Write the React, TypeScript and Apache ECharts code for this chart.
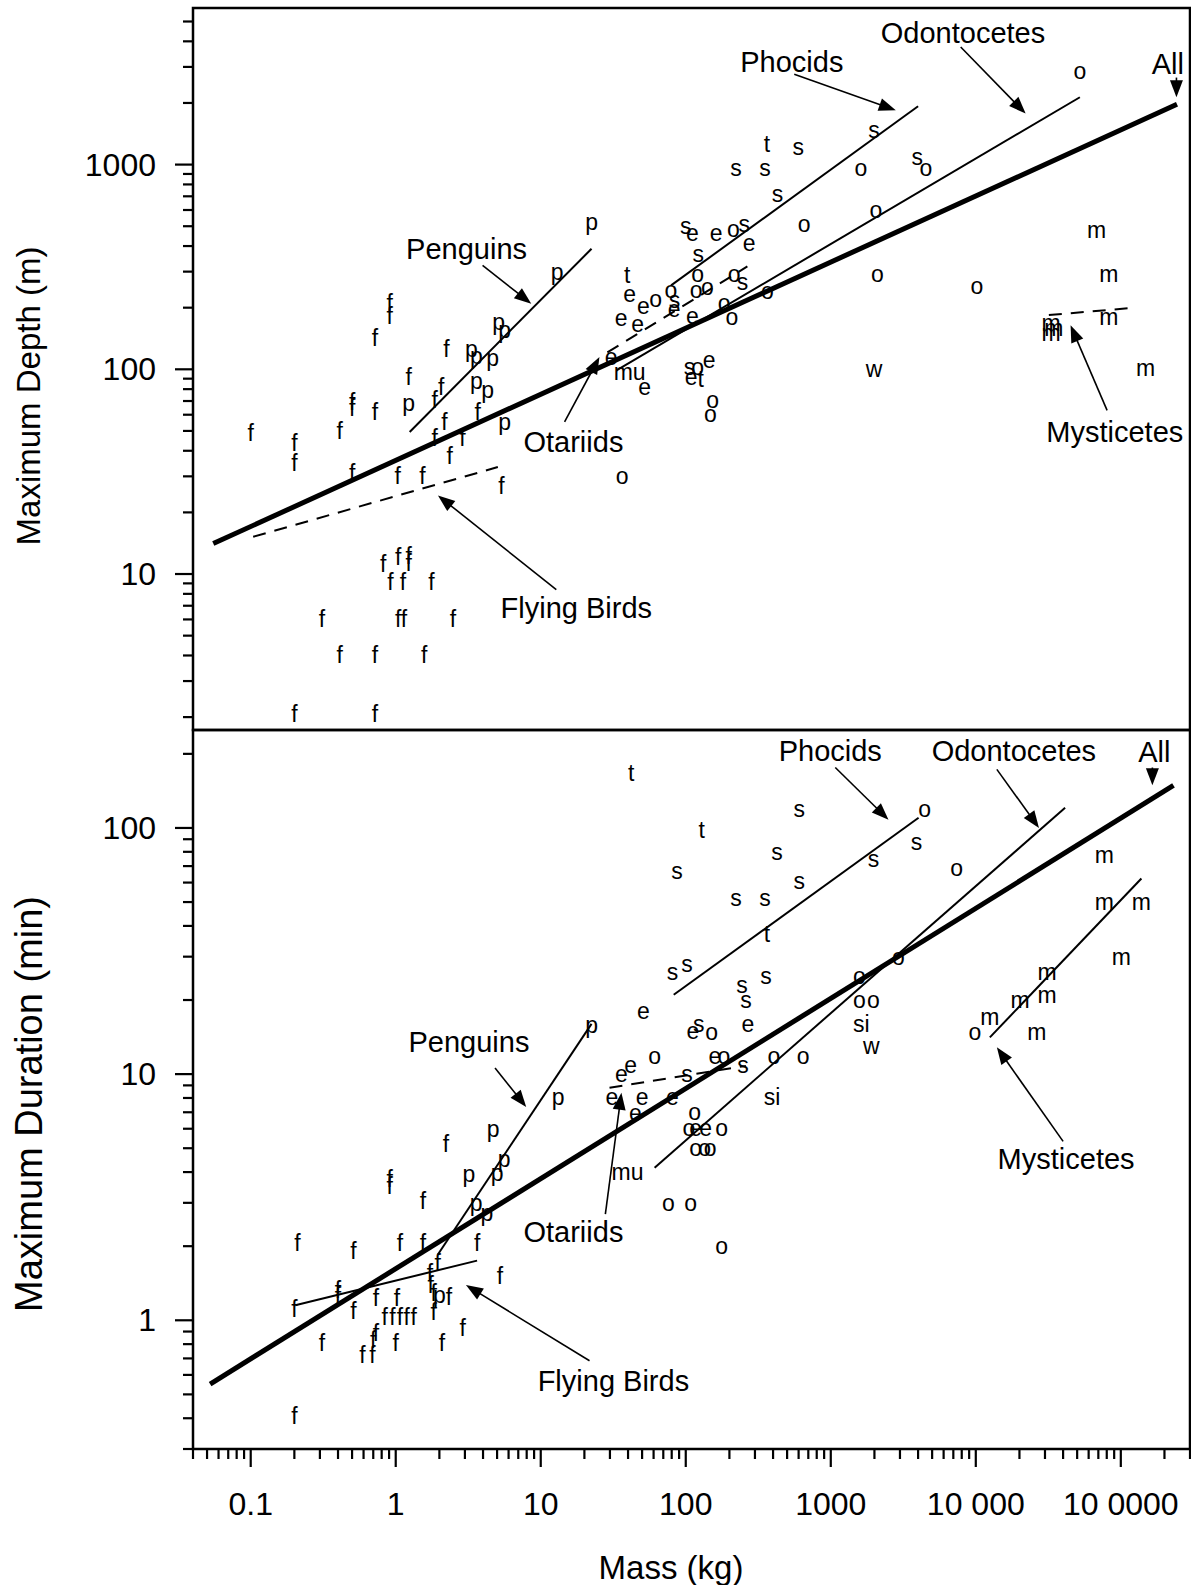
import React, { useEffect, useRef } from 'react';
import * as echarts from 'echarts';

const FONT = '"Liberation Sans", Arial, Helvetica, sans-serif';

// ---- axis ranges ----
const MASS_RANGE = [0.04, 300000];
const DEPTH_RANGE = [1.73, 5820];
const DURATION_RANGE = [0.3, 250];

// ---- tick labels (value -> text) ----
const MASS_TICK_VALUES = [0.1, 1, 10, 100, 1000, 10000, 100000];
const MASS_TICK_TEXTS = ['0.1', '1', '10', '100', '1000', '10 000', '10 0000'];
const DEPTH_TICK_VALUES = [10, 100, 1000];
const DEPTH_TICK_TEXTS = ['10', '100', '1000'];
const DURATION_TICK_VALUES = [1, 10, 100];
const DURATION_TICK_TEXTS = ['1', '10', '100'];

// ---- top panel: maximum depth (m) vs mass (kg) ----
const DEPTH_POINTS: [number, number, string][] = [
  [0.1, 49, 'f'], [0.2, 43.5, 'f'], [0.2, 35, 'f'], [0.41, 50, 'f'], [0.5, 69, 'f'], [0.5, 65, 'f'],
  [0.72, 62, 'f'], [0.72, 142, 'f'], [0.91, 210, 'f'], [0.91, 183, 'f'], [1.23, 92, 'f'], [1.23, 68.5, 'p'],
  [1.86, 71, 'f'], [2.06, 82, 'f'], [2.24, 126, 'f'], [3.32, 126, 'p'], [3.6, 116, 'p'], [4.66, 113, 'p'],
  [3.6, 88, 'p'], [4.3, 79, 'p'], [5.12, 170, 'p'], [5.63, 155, 'p'], [13, 299, 'p'], [22.4, 523, 'p'],
  [2.17, 55, 'f'], [1.86, 46, 'f'], [3.67, 62, 'f'], [2.88, 46, 'f'], [2.36, 37.6, 'f'], [5.63, 55.3, 'p'],
  [0.5, 31, 'f'], [1.03, 30, 'f'], [1.53, 30, 'f'], [5.35, 27, 'f'], [36.4, 30, 'o'],
  [0.82, 11.2, 'f'], [1.04, 12.1, 'f'], [1.23, 12.3, 'f'], [1.23, 11.3, 'f'],
  [0.92, 9.1, 'f'], [1.12, 9.1, 'f'], [1.76, 9.1, 'f'],
  [0.31, 6.06, 'f'], [1.04, 6.06, 'f'], [1.14, 6.06, 'f'], [2.48, 6.06, 'f'],
  [0.41, 4.04, 'f'], [0.72, 4.04, 'f'], [1.57, 4.04, 'f'], [0.2, 2.08, 'f'], [0.72, 2.08, 'f'],
  [363, 1266, 't'], [596, 1218, 's'], [222, 967, 's'], [352, 967, 's'], [430, 722, 's'],
  [1612, 967, 'o'], [3955, 1089, 's'], [4519, 967, 'o'], [1990, 1482, 's'], [656, 515, 'o'], [2045, 598, 'o'],
  [100, 500, 's'], [111, 463, 'e'], [162, 463, 'e'], [213, 487, 'o'], [253, 515, 's'], [274, 414, 'e'], [122, 365, 's'],
  [39.4, 288, 't'], [121, 293, 'o'], [216, 293, 'o'], [246, 267, 's'], [79, 243, 'o'], [41, 234, 'e'],
  [62, 220, 'o'], [51, 203, 'e'], [83.5, 217, 's'], [83, 198, 'e'], [118, 243, 'o'], [141, 252, 'o'],
  [184, 211, 'o'], [208, 180, 'o'], [111, 183, 'e'], [35.8, 179, 'e'], [46.6, 167, 'e'], [366, 241, 'o'],
  [2097, 293, 'o'], [10190, 256, 'o'],
  [30.6, 115, 'e'], [41, 97, 'mu'], [52, 82, 'e'], [106, 103, 's'], [121, 103, 'o'], [145, 111, 'e'],
  [109, 92, 'e'], [127, 90, 't'], [153, 70.6, 'o'], [148, 60.6, 'o'], [1990, 100, 'w'],
  [52200, 2866, 'o'], [68000, 481, 'm'], [82700, 293, 'm'], [82700, 181, 'm'],
  [33000, 169, 'm'], [33000, 151, 'm'], [34500, 160, 'm'], [148000, 101, 'm'],
];

// regression lines: [mass1, depth1, mass2, depth2]
const DEPTH_ALL = [0.0552, 14.08, 244000, 1971];
const DEPTH_PENGUINS = [1.248, 49.4, 22.4, 388];
const DEPTH_FLYING = [0.104, 15.2, 5.06, 33.3];
const DEPTH_OTARIIDS = [28.8, 121, 266, 318];
const DEPTH_PHOCIDS = [79.2, 257, 4000, 1928];
const DEPTH_ODONTOCETES = [33.3, 98.9, 52200, 2133];
const DEPTH_MYSTICETES = [31900, 184, 126300, 200];

const DEPTH_LABELS: [string, number, number][] = [
  ['Penguins', 3.08, 387], ['Otariids', 16.8, 43.9], ['Flying Birds', 17.6, 6.83],
  ['Phocids', 539, 3171], ['Odontocetes', 8163, 4404], ['All', 210700, 3108], ['Mysticetes', 90900, 49.5],
];
const DEPTH_ARROWS: [number, number, number, number][] = [
  [3.97, 322, 8.6, 209], [14.6, 55.3, 25.4, 114.8], [12.8, 8.39, 1.956, 24.2],
  [560, 2761, 2808, 1842], [7870, 3753, 22060, 1775], [241900, 2661, 241900, 2132], [80450, 63, 45040, 164],
];

// ---- bottom panel: maximum duration (min) vs mass (kg) ----
const DURATION_POINTS: [number, number, string][] = [
  [42, 167, 't'], [129, 98, 't'], [605, 119, 's'], [4436, 119, 'o'], [426, 80, 's'], [87, 67, 's'],
  [1968, 75, 's'], [3906, 88, 's'], [605, 61, 's'], [7390, 69, 'o'],
  [76900, 78, 'm'], [222, 52, 's'], [352, 52, 's'], [76900, 50, 'm'], [138700, 50, 'm'], [363, 37, 't'], [100800, 30, 'm'],
  [81, 26, 's'], [102, 28, 's'], [244, 23, 's'], [358, 25, 's'], [260, 20, 's'], [1574, 25, 'o'],
  [31000, 26, 'm'], [31000, 21, 'm'], [20200, 20, 'm'], [2930, 30, 'o'], [1574, 20, 'o'], [1968, 20, 'o'],
  [51, 18, 'e'], [112, 15, 'e'], [123, 16, 's'], [151, 14.8, 'o'], [268, 16, 'e'], [1626, 16, 'si'], [1907, 13, 'w'],
  [9840, 14.8, 'o'], [12500, 17, 'm'], [26400, 14.8, 'm'],
  [22.4, 15.8, 'p'], [61, 11.9, 'o'], [36, 10, 'e'], [41.6, 10.9, 'e'], [159, 11.9, 'e'], [183, 11.9, 'o'],
  [102, 10, 's'], [248, 10.9, 's'], [406, 11.9, 'o'], [645, 11.9, 'o'],
  [31, 8.1, 'e'], [50, 8.1, 'e'], [81, 8.1, 'e'], [13.2, 8.1, 'p'], [394, 8.1, 'si'], [45, 6.95, 'e'], [115, 7, 'o'],
  [105, 6.03, 'o'], [117, 6.03, 'e'], [137, 6.03, 'e'], [177, 6.03, 'o'],
  [117, 4.99, 'o'], [135, 4.99, 'o'], [147, 4.99, 'o'],
  [39.7, 4.0, 'mu'], [76, 3, 'o'], [108, 3, 'o'], [177, 2.0, 'o'],
  [4.7, 6.0, 'p'], [3.2, 3.94, 'p'], [5, 3.98, 'p'], [5.6, 4.5, 'p'], [3.58, 3.0, 'p'], [4.26, 2.72, 'p'],
  [2.22, 5.2, 'f'], [0.91, 3.76, 'f'], [0.91, 3.52, 'f'], [1.54, 3.05, 'f'],
  [0.21, 2.07, 'f'], [0.51, 1.92, 'f'], [1.07, 2.07, 'f'], [1.54, 2.07, 'f'], [3.64, 2.07, 'f'], [1.95, 1.71, 'f'],
  [0.2, 1.11, 'f'], [0.4, 1.33, 'f'], [0.4, 1.25, 'f'], [0.51, 1.09, 'f'], [0.73, 1.23, 'f'], [1.02, 1.23, 'f'],
  [1.72, 1.56, 'f'], [1.74, 1.39, 'f'], [1.83, 1.29, 'f'], [2.0, 1.27, 'p'], [2.33, 1.24, 'f'], [5.24, 1.52, 'f'],
  [0.84, 1.03, 'f'], [0.95, 1.03, 'f'], [1.07, 1.03, 'f'], [1.19, 1.03, 'f'], [1.33, 1.03, 'f'],
  [0.73, 0.89, 'f'], [0.31, 0.81, 'f'], [0.59, 0.72, 'f'], [0.69, 0.72, 'f'], [0.7, 0.83, 'f'], [1.0, 0.81, 'f'],
  [1.83, 1.08, 'f'], [2.08, 0.81, 'f'], [2.9, 0.93, 'f'], [0.2, 0.41, 'f'],
];

const DURATION_ALL = [0.0525, 0.551, 230800, 148.8];
const DURATION_PHOCIDS = [82.6, 21, 4032, 110];
const DURATION_ODONTOCETES = [61, 4.17, 41300, 120.8];
const DURATION_MYSTICETES = [12500, 14.1, 138700, 62.3];
const DURATION_PENGUINS = [1.953, 1.85, 22.4, 16];
const DURATION_FLYING = [0.203, 1.152, 3.64, 1.747];
const DURATION_OTARIIDS = [29.8, 8.8, 260, 10.8];

const DURATION_LABELS: [string, number, number][] = [
  ['Phocids', 992, 205], ['Odontocetes', 18300, 205], ['All', 170400, 203], ['Penguins', 3.2, 13.5],
  ['Otariids', 16.8, 2.28], ['Flying Birds', 31.7, 0.567], ['Mysticetes', 41950, 4.5],
];
const DURATION_ARROWS: [number, number, number, number][] = [
  [1074, 176, 2500, 108], [13970, 173, 27280, 100], [165100, 176, 165100, 149], [4.84, 10.6, 7.94, 7.35],
  [27.9, 2.7, 36, 8.4], [21.7, 0.685, 3.05, 1.39], [40000, 5.33, 13970, 12.85],
];

// ---------------------------------------------------------------
function labelFormatter(values: number[], texts: string[]) {
  return (v: number) => {
    for (let i = 0; i < values.length; i++) {
      if (Math.abs(Math.log10(v) - Math.log10(values[i])) < 1e-6) return texts[i];
    }
    return '';
  };
}

function logTickValues(min: number, max: number): [number, number][] {
  const out: [number, number][] = [];
  for (let e = Math.floor(Math.log10(min)) - 1; e <= Math.ceil(Math.log10(max)); e++) {
    for (let k = 1; k <= 9; k++) {
      const v = k * Math.pow(10, e);
      if (v >= min * 0.9999 && v <= max * 1.0001) out.push([v, k === 1 ? 1 : 0]);
    }
  }
  return out;
}

function textSeries(points: [number, number, string][], gi: number, size: number) {
  return {
    type: 'custom', xAxisIndex: gi, yAxisIndex: gi, silent: true, z: 6,
    data: points.map((p) => [p[0], p[1]]),
    renderItem: (params: any, api: any) => {
      const p = points[params.dataIndex];
      const c = api.coord([p[0], p[1]]);
      return {
        type: 'text', x: c[0], y: c[1],
        style: { text: p[2], fontSize: size, fontFamily: FONT, fill: '#000', align: 'center', verticalAlign: 'middle' },
      };
    },
  };
}

function labelSeries(labels: [string, number, number][], gi: number) {
  return {
    type: 'custom', xAxisIndex: gi, yAxisIndex: gi, silent: true, z: 7,
    data: labels.map((l) => [l[1], l[2]]),
    renderItem: (params: any, api: any) => {
      const l = labels[params.dataIndex];
      const c = api.coord([l[1], l[2]]);
      return {
        type: 'text', x: c[0], y: c[1],
        style: { text: l[0], fontSize: 29, fontFamily: FONT, fill: '#000', align: 'center', verticalAlign: 'middle' },
      };
    },
  };
}

function arrowSeries(arrows: [number, number, number, number][], gi: number) {
  return {
    type: 'custom', xAxisIndex: gi, yAxisIndex: gi, silent: true, z: 7,
    data: arrows.map((a) => [a[0], a[1]]),
    renderItem: (params: any, api: any) => {
      const a = arrows[params.dataIndex];
      const p1 = api.coord([a[0], a[1]]);
      const p2 = api.coord([a[2], a[3]]);
      const dx = p2[0] - p1[0];
      const dy = p2[1] - p1[1];
      const L = Math.hypot(dx, dy) || 1;
      const ux = dx / L;
      const uy = dy / L;
      const hl = 17;
      const hw = 6.5;
      const bx = p2[0] - ux * hl;
      const by = p2[1] - uy * hl;
      return {
        type: 'group',
        children: [
          { type: 'line', shape: { x1: p1[0], y1: p1[1], x2: bx + ux * 2, y2: by + uy * 2 }, style: { stroke: '#000', lineWidth: 1.6 } },
          {
            type: 'polygon',
            shape: { points: [[p2[0], p2[1]], [bx - uy * hw, by + ux * hw], [bx + uy * hw, by - ux * hw]] },
            style: { fill: '#000' },
          },
        ],
      };
    },
  };
}

function lineSeries(seg: number[], gi: number, width: number, dashed: boolean) {
  return {
    type: 'line', xAxisIndex: gi, yAxisIndex: gi, silent: true, z: 4,
    data: [[seg[0], seg[1]], [seg[2], seg[3]]],
    symbol: 'none', showSymbol: false,
    lineStyle: { color: '#000', width, type: dashed ? [13, 9] : 'solid', cap: 'butt' },
  };
}

function xTickSeries(gi: number, yAtAxis: number) {
  const ticks = logTickValues(MASS_RANGE[0], MASS_RANGE[1]);
  return {
    type: 'custom', xAxisIndex: gi, yAxisIndex: gi, silent: true, z: 8,
    data: ticks.map((t) => [t[0], yAtAxis]),
    renderItem: (params: any, api: any) => {
      const t = ticks[params.dataIndex];
      const c = api.coord([t[0], yAtAxis]);
      const len = t[1] ? 18 : 10;
      return { type: 'line', shape: { x1: c[0], y1: c[1], x2: c[0], y2: c[1] + len }, style: { stroke: '#000', lineWidth: 2.2 } };
    },
  };
}

function yTickSeries(gi: number, range: number[]) {
  const ticks = logTickValues(range[0], range[1]);
  return {
    type: 'custom', xAxisIndex: gi, yAxisIndex: gi, silent: true, z: 8,
    data: ticks.map((t) => [MASS_RANGE[0], t[0]]),
    renderItem: (params: any, api: any) => {
      const t = ticks[params.dataIndex];
      const c = api.coord([MASS_RANGE[0], t[0]]);
      const len = t[1] ? 18 : 10;
      return { type: 'line', shape: { x1: c[0] - len, y1: c[1], x2: c[0], y2: c[1] }, style: { stroke: '#000', lineWidth: 2.2 } };
    },
  };
}

const labelStyle = { fontSize: 32, fontFamily: FONT, color: '#000' };

export default function App() {
  const ref = useRef<HTMLDivElement>(null);

  useEffect(() => {
    if (!ref.current) return;
    const chart = echarts.init(ref.current, null, { renderer: 'svg' });
    const hidden = { axisLine: { show: false }, axisTick: { show: false }, splitLine: { show: false }, minorTick: { show: false } };
    const option: any = {
      animation: false,
      backgroundColor: '#fff',
      grid: [
        { left: 193, top: 8, width: 997, height: 722, show: true, borderColor: '#000', borderWidth: 2.5, backgroundColor: 'transparent', containLabel: false, outerBoundsMode: 'none' },
        { left: 193, top: 730, width: 997, height: 719, show: true, borderColor: '#000', borderWidth: 2.5, backgroundColor: 'transparent', containLabel: false, outerBoundsMode: 'none' },
      ],
      xAxis: [
        { type: 'log', gridIndex: 0, min: MASS_RANGE[0], max: MASS_RANGE[1], ...hidden, axisLabel: { show: false } },
        {
          type: 'log', gridIndex: 1, min: MASS_RANGE[0], max: MASS_RANGE[1], ...hidden,
          axisLabel: { show: true, ...labelStyle, margin: 39, formatter: labelFormatter(MASS_TICK_VALUES, MASS_TICK_TEXTS) },
        },
      ],
      yAxis: [
        {
          type: 'log', gridIndex: 0, min: DEPTH_RANGE[0], max: DEPTH_RANGE[1], ...hidden,
          axisLabel: { show: true, ...labelStyle, margin: 37, formatter: labelFormatter(DEPTH_TICK_VALUES, DEPTH_TICK_TEXTS) },
        },
        {
          type: 'log', gridIndex: 1, min: DURATION_RANGE[0], max: DURATION_RANGE[1], ...hidden,
          axisLabel: { show: true, ...labelStyle, margin: 37, formatter: labelFormatter(DURATION_TICK_VALUES, DURATION_TICK_TEXTS) },
        },
      ],
      graphic: [
        { type: 'text', x: 28, y: 396, rotation: Math.PI / 2, style: { text: 'Maximum Depth (m)', fontSize: 33, fontFamily: FONT, fill: '#000', align: 'center', verticalAlign: 'middle' } },
        { type: 'text', x: 29, y: 1104, rotation: Math.PI / 2, style: { text: 'Maximum Duration (min)', fontSize: 38, fontFamily: FONT, fill: '#000', align: 'center', verticalAlign: 'middle' } },
        { type: 'text', x: 671, y: 1567, style: { text: 'Mass (kg)', fontSize: 33, fontFamily: FONT, fill: '#000', align: 'center', verticalAlign: 'middle' } },
      ],
      series: [
        // top panel
        lineSeries(DEPTH_ALL, 0, 5, false),
        lineSeries(DEPTH_PENGUINS, 0, 2, false),
        lineSeries(DEPTH_FLYING, 0, 2, true),
        lineSeries(DEPTH_OTARIIDS, 0, 2, true),
        lineSeries(DEPTH_PHOCIDS, 0, 2, false),
        lineSeries(DEPTH_ODONTOCETES, 0, 2, false),
        lineSeries(DEPTH_MYSTICETES, 0, 2, true),
        textSeries(DEPTH_POINTS, 0, 23),
        labelSeries(DEPTH_LABELS, 0),
        arrowSeries(DEPTH_ARROWS, 0),
        yTickSeries(0, DEPTH_RANGE),
        // bottom panel
        lineSeries(DURATION_ALL, 1, 5, false),
        lineSeries(DURATION_PHOCIDS, 1, 2, false),
        lineSeries(DURATION_ODONTOCETES, 1, 2, false),
        lineSeries(DURATION_MYSTICETES, 1, 2, false),
        lineSeries(DURATION_PENGUINS, 1, 2, false),
        lineSeries(DURATION_FLYING, 1, 2, false),
        lineSeries(DURATION_OTARIIDS, 1, 2, true),
        textSeries(DURATION_POINTS, 1, 23),
        labelSeries(DURATION_LABELS, 1),
        arrowSeries(DURATION_ARROWS, 1),
        yTickSeries(1, DURATION_RANGE),
        xTickSeries(1, DURATION_RANGE[0]),
      ],
    };
    chart.setOption(option);
    return () => chart.dispose();
  }, []);

  return <div ref={ref} style={{ position: 'absolute', left: 0, top: 0, width: 1191, height: 1585 }} />;
}
